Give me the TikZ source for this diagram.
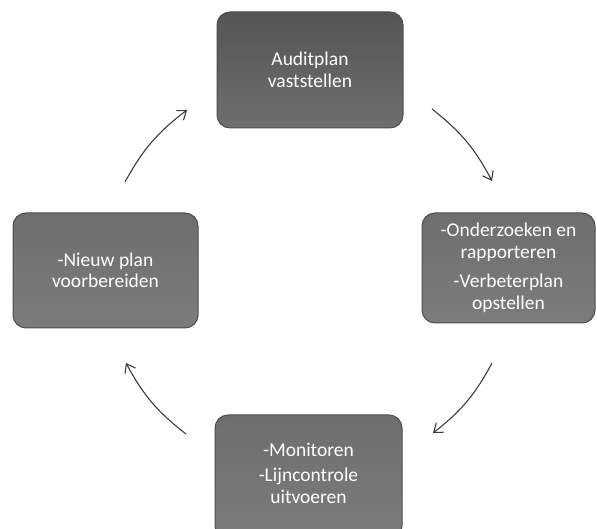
\documentclass[tikz,border=0pt]{standalone}
\usepackage{fontspec}
\setmainfont{Carlito}
\usetikzlibrary{arrows.meta}
\definecolor{boxdark}{HTML}{555555}
\definecolor{boxmid}{HTML}{6E6E6E}
\definecolor{boxlight}{HTML}{7C7C7C}
\definecolor{arrowcol}{HTML}{3C3C3C}
\tikzset{
  x=1pt, y=1pt,
  phasebox/.style={rounded corners=13pt, draw=boxmid!70!black, line width=1pt,
    top color=boxmid, bottom color=boxlight, text=white, align=center,
    font=\fontsize{19.5}{21.5}\selectfont, inner sep=0pt, anchor=center},
  cyclearrow/.style={draw=arrowcol, line width=1.1pt,
    -{Straight Barb[length=8pt, width=12pt, line width=1.1pt]}, bend left=12}
}
\begin{document}
\begin{tikzpicture}
\useasboundingbox (0,0) rectangle (597,529);
\node[phasebox, top color=boxdark, bottom color=boxmid, minimum width=186pt, minimum height=116pt] (top) at (310,459) {Auditplan\\vaststellen};
\node[phasebox, minimum width=173pt, minimum height=110pt] (right) at (508.5,261) {-Onderzoeken en\\rapporteren\\[8pt]-Verbeterplan\\opstellen};
\node[phasebox, minimum width=185pt, minimum height=115pt] (left) at (105.5,258.5) {-Nieuw plan\\voorbereiden};
\node[phasebox, minimum width=187pt, minimum height=124pt] (bottom) at (308.5,52) {};
\node[text=white, align=center, font=\fontsize{19.5}{21.5}\selectfont] (bottomtext) at (308.5,56) {-Monitoren\\[4pt]-Lijncontrole\\uitvoeren};
\coordinate (a1s) at (125,347);
\coordinate (a1e) at (187,419);
\coordinate (a2s) at (432,420);
\coordinate (a2e) at (492,348);
\coordinate (a3s) at (492,166);
\coordinate (a3e) at (433,96);
\coordinate (a4s) at (186,95);
\coordinate (a4e) at (126,166);
\draw[cyclearrow] (a1s) to (a1e);
\draw[cyclearrow] (a2s) to (a2e);
\draw[cyclearrow] (a3s) to (a3e);
\draw[cyclearrow] (a4s) to (a4e);
\end{tikzpicture}
\end{document}
